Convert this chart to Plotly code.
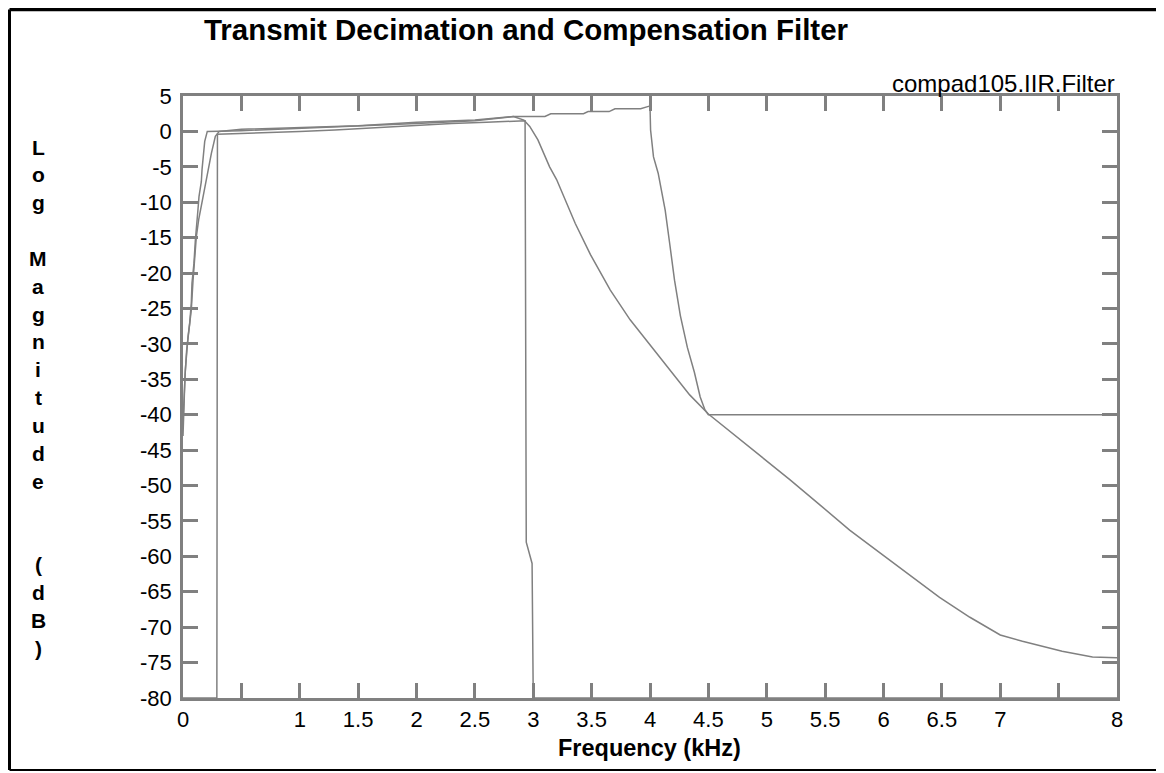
import plotly.graph_objects as go

# frequency axis in kHz, magnitudes in dB
mask_khz = [0, 0.29, 0.295, 0.5, 0.8, 1.0, 1.3, 1.6, 2.0, 2.3, 2.6, 2.85, 2.93, 2.94, 2.99, 3.0, 8.0]
mask_db = [-80, -80, -0.4, -0.3, -0.2, 0.0, 0.2, 0.5, 0.9, 1.1, 1.3, 1.5, 1.5, -58, -61, -80, -80]

iir_khz = [0, 0.02, 0.043, 0.057, 0.071, 0.077, 0.094, 0.106, 0.128, 0.137, 0.157, 0.163,
           0.186, 0.208, 0.5, 1.0, 1.5, 2.0, 2.5, 2.83, 2.92, 2.97, 3.04, 3.09, 3.14, 3.2,
           3.27, 3.36, 3.49, 3.66, 3.83, 4.0, 4.17, 4.24, 4.34, 4.5, 4.69, 4.94, 5.2, 5.46,
           5.71, 5.97, 6.23, 6.48, 6.74, 7.0, 7.19, 7.34, 7.53, 7.79, 8.0]
iir_db = [-41, -33.7, -29, -27.1, -24.3, -21.4, -18.6, -15.3, -11.1, -9.2, -7.1, -5.4,
          -1.4, 0, 0.1, 0.4, 0.7, 1.1, 1.5, 2.1, 1.6, 0.7, -1.2, -3.1, -5.0, -6.8,
          -9.5, -13.0, -17.4, -22.4, -26.6, -30.1, -33.7, -35.1, -37.2, -39.9, -42.4, -45.7, -49.2, -52.8,
          -56.3, -59.5, -62.7, -65.8, -68.6, -71.1, -72.0, -72.6, -73.4, -74.2, -74.3]

comp_khz = [0, 0.017, 0.031, 0.049, 0.071, 0.086, 0.1, 0.114, 0.134, 0.171, 0.2, 0.243,
            0.277, 0.31, 0.5, 1.0, 1.5, 2.0, 2.5, 2.83, 3.1, 3.15, 3.43, 3.47, 3.65, 3.7,
            3.92, 3.98, 4.0, 4.005, 4.03, 4.07, 4.11, 4.13, 4.17, 4.21, 4.26, 4.32, 4.38,
            4.43, 4.47, 4.5, 8.0]
comp_db = [-43, -34.6, -30.9, -28.5, -25.2, -21, -17.7, -14.9, -12.5, -9.2, -6.9, -3.1,
           -0.7, 0, 0.3, 0.5, 0.8, 1.3, 1.6, 2.1, 2.1, 2.5, 2.5, 2.8, 2.8, 3.2,
           3.2, 3.5, 3.6, 0.2, -3.6, -5.9, -9.2, -11.1, -16, -21, -26, -30.5, -34,
           -37.5, -39.3, -40, -40]

x_ticks = [0, 0.5, 1, 1.5, 2, 2.5, 3, 3.5, 4, 4.5, 5, 5.5, 6, 6.5, 7, 7.5, 8]
x_labels = ["0", "", "1", "1.5", "2", "2.5", "3", "3.5", "4", "4.5", "5", "5.5", "6", "6.5", "7", "", "8"]
y_ticks = list(range(5, -85, -5))
y_labels = [str(v) for v in y_ticks]  # plain hyphen minus, as in the original

FONT = "Liberation Sans, Arial, sans-serif"
GREY = "#808080"

# the page has an 8px body margin, so the figure starts at (8, 8) in the window
OFF = 8
W, H = 1164 - OFF, 773 - OFF
# plot area in window pixels
L, R, T, B = 183, 1117, 96, 698


def px_x(px):
    return (px - L) / (R - L)


def px_y(py):
    return (B - py) / (B - T)


fig = go.Figure()
for xs, ys in [(mask_khz, mask_db), (iir_khz, iir_db), (comp_khz, comp_db)]:
    fig.add_trace(go.Scatter(x=xs, y=ys, mode="lines",
                             line=dict(color=GREY, width=1.5), showlegend=False))

axis_common = dict(showline=True, linecolor=GREY, linewidth=2.5, mirror="allticks",
                   ticks="inside", ticklen=15, tickwidth=2.5, tickcolor=GREY,
                   showgrid=False, zeroline=False,
                   tickfont=dict(family=FONT, size=22, color="black"))

fig.update_layout(
    width=W, height=H,
    margin=dict(l=L - OFF, r=W - (R - OFF), t=T - OFF, b=H - (B - OFF)),
    paper_bgcolor="white", plot_bgcolor="white",
    title=dict(text="<b>Transmit Decimation and Compensation Filter</b>",
               x=(526 - OFF) / W, y=1 - (30 - OFF) / H, xanchor="center", yanchor="middle",
               font=dict(family=FONT, size=29.5, color="black")),
    xaxis=dict(range=[0, 8], tickvals=x_ticks, ticktext=x_labels, **axis_common),
    yaxis=dict(range=[-80, 5], tickvals=y_ticks, ticktext=y_labels,
               ticklabelstandoff=4, **axis_common),
)

annotations = [
    dict(text="compad105.IIR.Filter", xref="paper", yref="paper", x=1, y=1,
         xanchor="right", yanchor="bottom", yshift=-3, showarrow=False,
         font=dict(family=FONT, size=24, color="black")),
    dict(text="<b>Frequency (kHz)</b>", xref="paper", yref="paper", x=px_x(649), y=px_y(748),
         xanchor="center", yanchor="middle", showarrow=False,
         font=dict(family=FONT, size=23.5, color="black")),
]

# vertical y-axis title, one letter per row
rows = ["L", "o", "g", "", "M", "a", "g", "n", "i", "t", "u", "d", "e", "", "", "(", "d", "B", ")"]
row_px = [147 + i * (648 - 147) / 18 for i in range(19)]
for ch, py in zip(rows, row_px):
    if ch:
        annotations.append(dict(text="<b>%s</b>" % ch, xref="paper", yref="paper",
                                x=px_x(38), y=px_y(py), xanchor="center", yanchor="middle",
                                showarrow=False, font=dict(family=FONT, size=21, color="black")))
fig.update_layout(annotations=annotations)

# outer frame: left, top and bottom edges only (right edge is off the picture)
frame = [
    (9.5, 9.5, 9.5, 770, 3),      # left
    (9.5, 1164, 9.5, 9.5, 3.5),   # top
    (9.5, 1164, 770, 770, 2),     # bottom
]
for x0, x1, y0, y1, w in frame:
    fig.add_shape(type="line", xref="paper", yref="paper",
                  x0=px_x(x0), x1=px_x(x1), y0=px_y(y0), y1=px_y(y1),
                  line=dict(color="black", width=w), layer="above")

fig.write_html("out.html")
